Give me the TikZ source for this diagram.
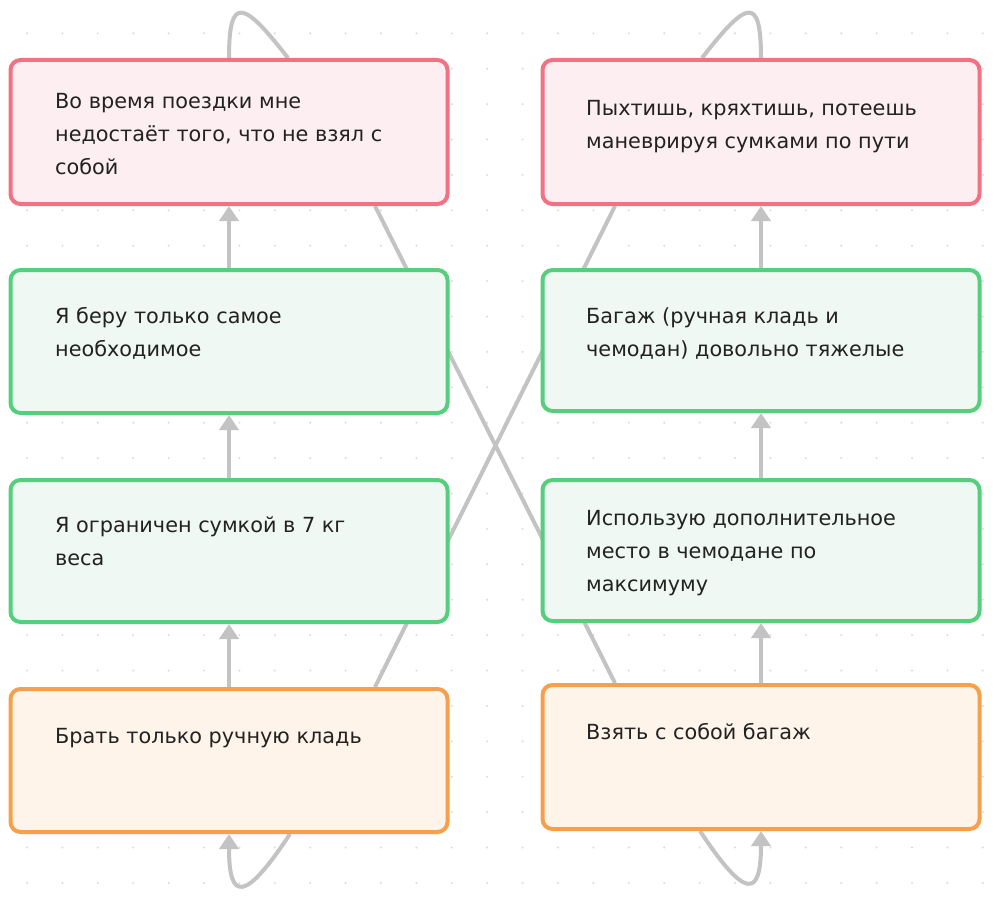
\documentclass[tikz,border=0pt]{standalone}
\usepackage{fontspec}
\setmainfont{DejaVu Sans}
\usetikzlibrary{arrows.meta,backgrounds,shadows}
\definecolor{redb}{HTML}{F27284}
\definecolor{redf}{HTML}{FCEEF1}
\definecolor{greenb}{HTML}{55CF7E}
\definecolor{greenf}{HTML}{EFF8F2}
\definecolor{orb}{HTML}{F5A04D}
\definecolor{orf}{HTML}{FEF4EA}
\definecolor{edgec}{HTML}{C3C3C3}
\definecolor{dotc}{HTML}{DADADA}
\definecolor{txt}{HTML}{222222}
\tikzset{
  box/.style={rectangle, rounded corners=10pt, line width=4pt, minimum width=437pt,
    inner sep=0pt, drop shadow={shadow xshift=0pt, shadow yshift=-2pt, opacity=0.12}},
  redbox/.style={box, draw=redb, fill=redf},
  greenbox/.style={box, draw=greenb, fill=greenf},
  orbox/.style={box, draw=orb, fill=orf},
  label/.style={anchor=north west, inner sep=0pt, align=left, text=txt,
    font=\fontsize{20.8}{33.3}\selectfont},
  conn/.style={draw=edgec, line width=4pt},
  arr/.style={conn, -{Triangle[width=19pt,length=15pt]}},
}
\newcommand{\fl}{\rule{0pt}{17pt}}
\begin{document}
\begin{tikzpicture}[x=1pt,y=-1pt]
\path[use as bounding box] (0,0) rectangle (994,899);
\begin{pgfonlayer}{background}
\fill[white] (0,0) rectangle (994,899);
\foreach \i in {0,...,27}{
  \foreach \j in {0,...,24}{
    \fill[dotc] (27+35.4*\i,33.3+35.4*\j) circle (1.1pt);
  }
}
\end{pgfonlayer}

% boxes
\node[redbox, minimum height=144pt] (lr) at (229,132) {};
\node[greenbox, minimum height=143pt] (lg1) at (229,341.5) {};
\node[greenbox, minimum height=142pt] (lg2) at (229,551) {};
\node[orbox, minimum height=143pt] (lo) at (229,760.5) {};
\node[redbox, minimum height=144pt] (rr) at (761,132) {};
\node[greenbox, minimum height=141pt] (rg1) at (761,340.5) {};
\node[greenbox, minimum height=141pt] (rg2) at (761,550.5) {};
\node[orbox, minimum height=144pt] (ro) at (761,757) {};

% texts
\node[label] (tlr) at (55,91) {\fl Во время поездки мне\\недостаёт того, что не взял с\\собой};
\node[label] (tlg1) at (55,306) {\fl Я беру только самое\\необходимое};
\node[label] (tlg2) at (55,515) {\fl Я ограничен сумкой в 7 кг\\веса};
\node[label] (tlo) at (55,726) {\fl Брать только ручную кладь};
\node[label] (trr) at (586,98) {\fl Пыхтишь, кряхтишь, потеешь\\маневрируя сумками по пути};
\node[label] (trg1) at (586,306) {\fl Багаж (ручная кладь и\\чемодан) довольно тяжелые};
\node[label] (trg2) at (586,508) {\fl Использую дополнительное\\место в чемодане по\\максимуму};
\node[label] (tro) at (586,722) {\fl Взять с собой багаж};

% connectors
\begin{pgfonlayer}{background}
\draw[arr] (lo.north) -- (lg2.south);
\draw[arr] (lg2.north) -- (lg1.south);
\draw[arr] (lg1.north) -- (lr.south);
\draw[arr] (ro.north) -- (rg2.south);
\draw[arr] (rg2.north) -- (rg1.south);
\draw[arr] (rg1.north) -- (rr.south);
\draw[conn] ([xshift=146pt]lo.north) -- ([xshift=-146pt]rr.south);
\draw[conn] ([xshift=-146pt]ro.north) -- ([xshift=146pt]lr.south);
\draw[conn] (lr.north) .. controls +(0,-63) and +(-45,-58) .. ([xshift=59pt]lr.north);
\draw[conn] ([xshift=-59pt]rr.north) .. controls +(45,-58) and +(0,-63) .. (rr.north);
\draw[arr] ([xshift=61pt]lo.south) .. controls +(-45,68) and +(0,68) .. (lo.south);
\draw[arr] ([xshift=-61pt]ro.south) .. controls +(45,68) and +(0,68) .. (ro.south);
\end{pgfonlayer}
\end{tikzpicture}
\end{document}
